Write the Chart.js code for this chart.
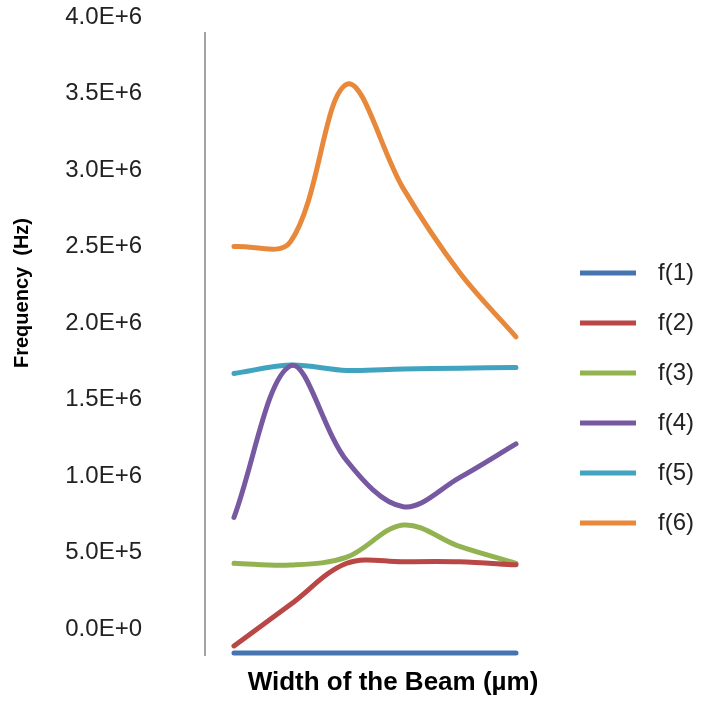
<!DOCTYPE html>
<html lang="en">
<head>
<meta charset="UTF-8">
<title>Frequency vs Width of the Beam</title>
<script src="https://cdn.jsdelivr.net/npm/chart.js"></script>
<style>
  html, body { margin: 0; padding: 0; background: #fff; }
  #wrap { width: 703px; height: 701px; }
</style>
</head>
<body>
<div id="wrap"><canvas id="freqChart" width="703" height="701"></canvas></div>
<script>
  // beam width steps (the x axis has no tick labels in the original)
  const beamWidths = [1, 2, 3, 4, 5, 6];

  // frequencies in Hz
  const f1 = [-157000, -157000, -157000, -157000, -157000, -157000];
  const f2 = [-110000, 160000, 430000, 440000, 440000, 420000];
  const f3 = [430000, 418000, 470000, 680000, 540000, 430000];
  const f4 = [730000, 1720000, 1100000, 800000, 990000, 1210000];
  const f5 = [1670000, 1725000, 1690000, 1700000, 1705000, 1710000];
  const f6 = [2500000, 2530000, 3560000, 2880000, 2330000, 1910000];

  const seriesNames = ['f(1)', 'f(2)', 'f(3)', 'f(4)', 'f(5)', 'f(6)'];
  const seriesColors = ['#4674B1', '#B84745', '#93B352', '#7659A0', '#40A3BF', '#E8883A'];
  const yTicks = [0, 500000, 1000000, 1500000, 2000000, 2500000, 3000000, 3500000, 4000000];

  const xTitle = 'Width of the Beam (\u00b5m)';
  const yTitle = 'Frequency  (Hz)';
  const fontFamily = '"Liberation Sans", Arial, sans-serif';

  // axis line and axis titles placed like the original
  const axisDecor = {
    id: 'axisDecor',
    afterDraw(chart) {
      const { ctx, chartArea } = chart;
      ctx.save();
      ctx.strokeStyle = '#868686';
      ctx.lineWidth = 1.5;
      ctx.beginPath();
      ctx.moveTo(chartArea.left, chartArea.top + 15);
      ctx.lineTo(chartArea.left, chartArea.bottom);
      ctx.stroke();

      ctx.fillStyle = '#000';
      ctx.textAlign = 'center';
      ctx.textBaseline = 'middle';
      ctx.font = 'bold 26px ' + fontFamily;
      ctx.fillText(xTitle, chartArea.left + 188, chartArea.bottom + 27);
      ctx.translate(22, chartArea.top + 276);
      ctx.rotate(-Math.PI / 2);
      ctx.font = 'bold 20px ' + fontFamily;
      ctx.fillText(yTitle, 0, 0);
      ctx.restore();
    }
  };

  const allSeries = [f1, f2, f3, f4, f5, f6];

  const ctx = document.getElementById('freqChart').getContext('2d');
  const freqChart = new Chart(ctx, {
    type: 'line',
    data: {
      labels: beamWidths,
      datasets: allSeries.map((vals, i) => ({
        label: seriesNames[i],
        data: vals,
        borderColor: seriesColors[i],
        backgroundColor: seriesColors[i],
        borderWidth: 5,
        borderCapStyle: 'round',
        borderJoinStyle: 'round',
        pointRadius: 0,
        tension: 0.35,
        fill: false
      }))
    },
    options: {
      responsive: false,
      animation: false,
      layout: { padding: { top: 17, bottom: 45, left: 0, right: 9 } },
      plugins: {
        tooltip: { enabled: false },
        legend: {
          position: 'right',
          title: { display: true, text: ' ', font: { size: 1 }, padding: { top: 122, bottom: 0 } },
          labels: {
            usePointStyle: true,
            pointStyle: 'line',
            pointStyleWidth: 56,
            padding: 26,
            textAlign: 'right',
            color: '#222',
            font: { size: 24, family: fontFamily }
          }
        }
      },
      scales: {
        x: {
          type: 'linear',
          display: false,
          min: 0.486,
          max: 6.674
        },
        y: {
          min: -176000,
          max: 4000000,
          afterFit(scale) {
            scale.width = 205;
            scale.paddingTop = 0;
            scale.paddingBottom = 0;
          },
          afterBuildTicks(scale) { scale.ticks = yTicks.map(v => ({ value: v })); },
          grid: { display: false },
          border: { display: false },
          ticks: {
            padding: 55,
            color: '#222',
            font: { size: 24, family: fontFamily },
            callback: v => Number(v).toExponential(1).toUpperCase()
          }
        }
      }
    },
    plugins: [axisDecor]
  });
</script>
</body>
</html>
